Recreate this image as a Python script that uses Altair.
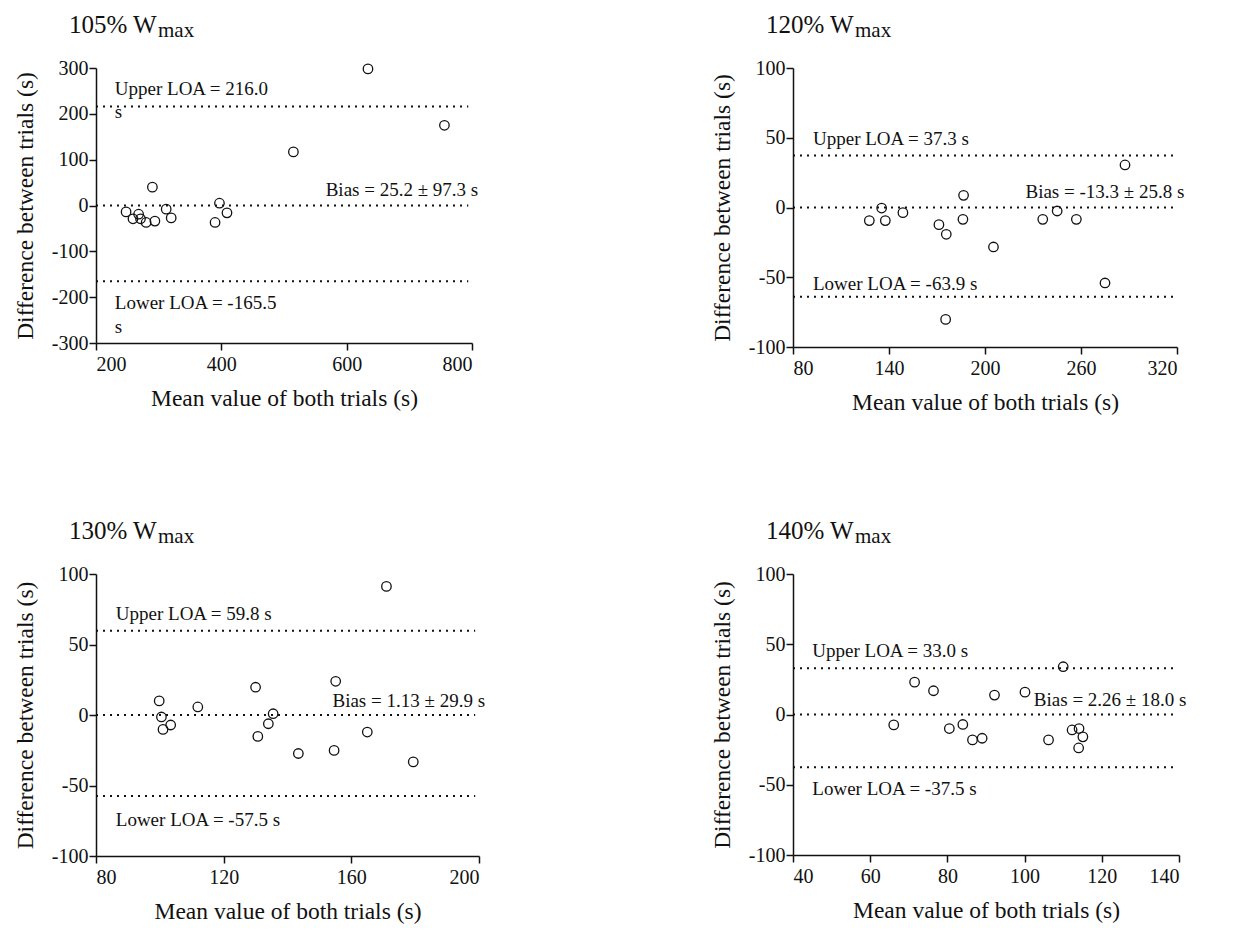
import altair as alt
import pandas as pd

FONT = "Liberation Serif"
INK = "#111111"

# ---------------- data ----------------
titles = ["105% W", "120% W", "130% W", "140% W"]
subscript = "max"

p1_mean = [634, 756, 515, 290, 397, 409, 390, 248, 259, 268, 271, 280, 294, 312, 320]
p1_diff = [298, 175, 117, 40, 5, -16, -37, -14, -29, -19, -29, -37, -34, -8, -27]

p2_mean = [287.5, 186.6, 135.4, 127.7, 137.7, 148.7, 171.2, 175.8, 186.2, 205.3, 236.1, 245.1, 257.1, 275.0, 175.4]
p2_diff = [30.5, 8.7, -0.4, -9.4, -9.4, -3.7, -12.3, -19.2, -8.5, -28.3, -8.5, -2.5, -8.5, -54.1, -80.2]

p3_mean = [171.0, 155.1, 130.0, 99.8, 111.9, 100.5, 101.0, 103.4, 135.5, 134.0, 130.7, 143.4, 154.6, 165.0, 179.4]
p3_diff = [91.2, 23.9, 19.7, 10.0, 5.7, -1.4, -10.2, -7.1, 0.9, -6.2, -15.2, -27.3, -25.1, -12.1, -33.2]

p4_mean = [110.0, 71.5, 76.4, 92.2, 100.1, 66.1, 80.5, 84.0, 86.5, 89.0, 106.2, 112.3, 114.1, 115.1, 114.0]
p4_diff = [34.0, 23.0, 16.9, 13.8, 15.9, -7.4, -10.0, -7.1, -18.1, -16.9, -18.1, -11.0, -10.0, -15.9, -23.8]

# reference lines (upper LOA, bias line, lower LOA)
p1_lines = [216.0, 0, -165.5]
p2_lines = [37.3, 0, -63.9]
p3_lines = [59.8, 0, -57.5]
p4_lines = [33.0, 0, -37.5]

# annotation texts
p1_texts = ["Upper LOA = 216.0", "s", "Bias = 25.2 \u00b1 97.3 s", "Lower LOA = -165.5", "s"]
p2_texts = ["Upper LOA = 37.3 s", "Bias = -13.3 \u00b1 25.8 s", "Lower LOA = -63.9 s"]
p3_texts = ["Upper LOA = 59.8 s", "Bias = 1.13 \u00b1 29.9 s", "Lower LOA = -57.5 s"]
p4_texts = ["Upper LOA = 33.0 s", "Bias = 2.26 \u00b1 18.0 s", "Lower LOA = -37.5 s"]

# annotation anchor positions (data units) and alignment
p1_tx = [230, 230, 810, 230, 230]
p1_ty = [242, 190, 20.6, -226, -278]
p1_al = ["left", "left", "right", "left", "left"]

p2_tx = [92.5, 324.6, 92.5]
p2_ty = [44.6, 7.0, -58.9]
p2_al = ["left", "right", "left"]

p3_tx = [86.2, 201.9, 86.2]
p3_ty = [67.1, 5.5, -78.7]
p3_al = ["left", "right", "left"]

p4_tx = [45.0, 102.4, 45.0]
p4_ty = [40.9, 5.7, -57.2]
p4_al = ["left", "left", "left"]

x_title = "Mean value of both trials (s)"
y_title = "Difference between trials (s)"

AXIS_STYLE = dict(
    grid=False,
    domainColor=INK, domainWidth=1.5,
    tickColor=INK, tickWidth=1.5, tickSize=7,
    labelFont=FONT, labelFontSize=20, labelColor=INK,
    titleFont=FONT, titleFontSize=23.5, titleFontWeight="normal", titleColor=INK,
    labelExpr="'' + datum.value",
)


def panel(title, means, diffs, lines, texts, tx, ty, al, xdom, xticks, ydom, yticks, w, h):
    pts = pd.DataFrame({"m": means, "d": diffs})
    xs = alt.Scale(domain=xdom, nice=False, zero=False)
    ys = alt.Scale(domain=ydom, nice=False, zero=False)

    xaxis = alt.Axis(values=xticks, title=x_title, labelPadding=4, titlePadding=12, **AXIS_STYLE)
    yaxis = alt.Axis(values=yticks, title=y_title, labelPadding=1, titlePadding=14, **AXIS_STYLE)

    points = alt.Chart(pts).mark_point(
        shape="circle", filled=False, color=INK, size=90, strokeWidth=1.3, opacity=1
    ).encode(
        x=alt.X("m:Q", scale=xs, axis=xaxis),
        y=alt.Y("d:Q", scale=ys, axis=yaxis),
    )

    ldf = pd.DataFrame({"y": lines, "x0": [xdom[0]] * 3,
                        "x1": [xdom[0] + (xdom[1] - xdom[0]) * 0.99] * 3})
    rules = alt.Chart(ldf).mark_rule(
        color=INK, strokeDash=[2, 5], strokeWidth=2
    ).encode(
        x=alt.X("x0:Q", scale=xs, axis=xaxis),
        x2="x1:Q",
        y=alt.Y("y:Q", scale=ys, axis=yaxis),
    )

    layers = [rules, points]
    for t, x, y, a in zip(texts, tx, ty, al):
        tdf = pd.DataFrame({"t": [t], "x": [x], "y": [y]})
        layers.append(
            alt.Chart(tdf).mark_text(
                align=a, baseline="alphabetic", font=FONT, fontSize=19, color=INK
            ).encode(
                x=alt.X("x:Q", scale=xs, axis=xaxis),
                y=alt.Y("y:Q", scale=ys, axis=yaxis),
                text="t:N",
            )
        )

    tt = pd.DataFrame({"t": [title], "s": [subscript]})
    layers.append(
        alt.Chart(tt).mark_text(
            align="left", baseline="alphabetic", font=FONT, fontSize=25, color=INK
        ).encode(x=alt.value(-27), y=alt.value(-35), text="t:N")
    )
    layers.append(
        alt.Chart(tt).mark_text(
            align="left", baseline="alphabetic", font=FONT, fontSize=21, color=INK
        ).encode(x=alt.value(62), y=alt.value(-31), text="s:N")
    )
    return alt.layer(*layers).properties(width=w, height=h)


c1 = panel(titles[0], p1_mean, p1_diff, p1_lines, p1_texts, p1_tx, p1_ty, p1_al,
           [200, 800], [200, 400, 600, 800], [-300, 300], [-300, -200, -100, 0, 100, 200, 300], 376, 275)
c2 = panel(titles[1], p2_mean, p2_diff, p2_lines, p2_texts, p2_tx, p2_ty, p2_al,
           [80, 320], [80, 140, 200, 260, 320], [-100, 100], [-100, -50, 0, 50, 100], 384, 279)
c3 = panel(titles[2], p3_mean, p3_diff, p3_lines, p3_texts, p3_tx, p3_ty, p3_al,
           [80, 200], [80, 120, 160, 200], [-100, 100], [-100, -50, 0, 50, 100], 383, 282)
c4 = panel(titles[3], p4_mean, p4_diff, p4_lines, p4_texts, p4_tx, p4_ty, p4_al,
           [40, 140], [40, 60, 80, 100, 120, 140], [-100, 100], [-100, -50, 0, 50, 100], 386, 281)

row1 = alt.hconcat(c1, c2, spacing=231)
row2 = alt.hconcat(c3, c4, spacing=224)
chart = alt.vconcat(row1, row2, spacing=105).configure_view(stroke=None).properties(
    background="white"
)

chart.save("out.html", embed_options={"renderer": "svg", "actions": False})
